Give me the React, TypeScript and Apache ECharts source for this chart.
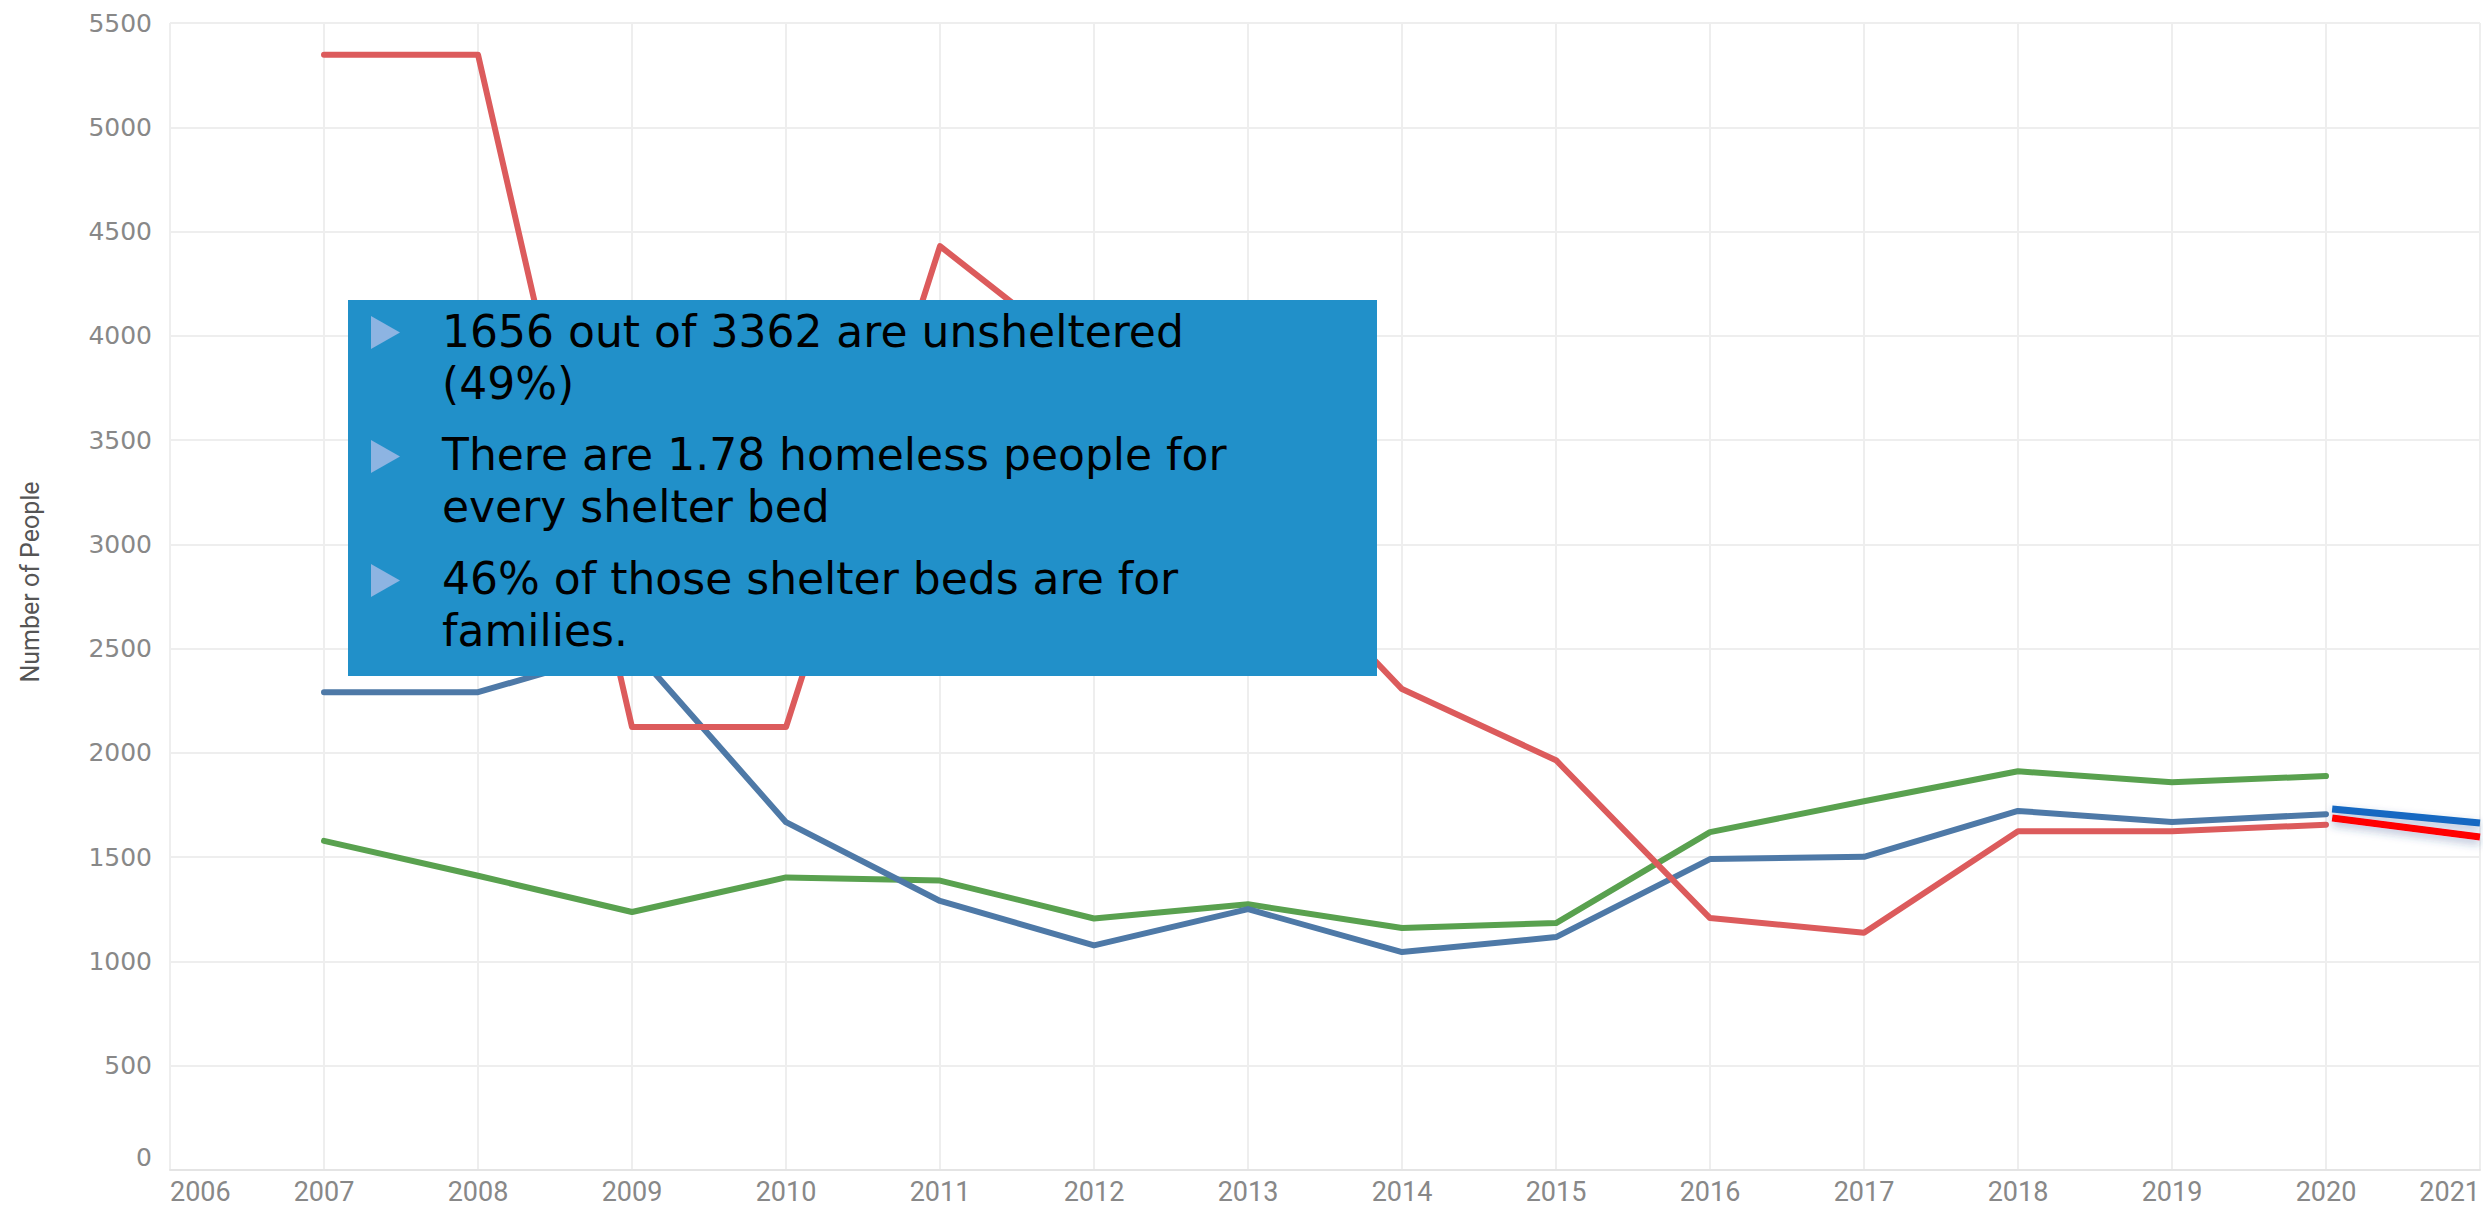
import { useEffect, useRef } from "react";
import * as echarts from "echarts";

const years = [2007, 2008, 2009, 2010, 2011, 2012, 2013, 2014, 2015, 2016, 2017, 2018, 2019, 2020];
const unsheltered = [5348, 5348, 2124, 2124, 4430, 3850, 3080, 2306, 1965, 1208, 1138, 1624, 1624, 1656];
const sheltered = [2291, 2291, 2505, 1668, 1290, 1077, 1251, 1045, 1117, 1491, 1502, 1722, 1669, 1706];
const shelterBeds = [1578, 1411, 1237, 1403, 1388, 1206, 1274, 1160, 1184, 1620, 1768, 1912, 1859, 1889];

const trendYears = [2020.04, 2021];
const trendSheltered = [1731, 1664];
const trendUnsheltered = [1688, 1597];

const bulletBlocks = [
  "1656 out of 3362 are unsheltered\n(49%)",
  "There are 1.78 homeless people for\nevery shelter bed",
  "46% of those shelter beds are for\nfamilies.",
];

const pairs = (xs: number[], ys: number[]) => xs.map((x, i) => [x, ys[i]]);

export default function App() {
  const ref = useRef<HTMLDivElement>(null);
  useEffect(() => {
    const chart = echarts.init(ref.current!, null, { renderer: "svg" });

    const blockTops = [305, 428, 552];
    const bulletCenters = [332.5, 456.5, 580.5];
    const graphic: any[] = [
      {
        type: "rect",
        z: 100,
        shape: { x: 348, y: 300, width: 1029, height: 376 },
        style: { fill: "#2190c9" },
      },
      {
        type: "text",
        z: 100,
        x: 30,
        y: 582,
        rotation: Math.PI / 2,
        style: {
          text: "Number of People",
          fontFamily: "Roboto",
          fontSize: 25,
          fill: "#555",
          align: "center",
          verticalAlign: "middle",
        },
      },
    ];
    bulletBlocks.forEach((block, bi) => {
      const c = bulletCenters[bi];
      graphic.push({
        type: "polygon",
        z: 101,
        shape: { points: [[371, c - 16.5], [400, c], [371, c + 16.5]] },
        style: { fill: "#8db4e2" },
      });
      graphic.push({
        type: "text",
        z: 101,
        x: 442,
        y: blockTops[bi],
        style: {
          text: block,
          fontFamily: "DejaVu Sans",
          fontSize: 44,
          lineHeight: 52,
          fill: "#000",
          align: "left",
          verticalAlign: "top",
        },
      });
    });

    const mainLine = (name: string, data: number[], color: string) => ({
      name,
      type: "line",
      data: pairs(years, data),
      symbol: "none",
      color,
      lineStyle: { width: 6, color, join: "round", cap: "round" },
      z: 3,
    });
    const trendLine = (name: string, data: number[], color: string) => ({
      name,
      type: "line",
      data: pairs(trendYears, data),
      symbol: "none",
      color,
      clip: false,
      lineStyle: {
        width: 7,
        color,
        cap: "butt",
        shadowColor: "rgba(40,70,140,0.35)",
        shadowBlur: 8,
        shadowOffsetY: 4,
      },
      z: 4,
    });

    chart.setOption({
      animation: false,
      backgroundColor: "#ffffff",
      grid: { left: 170, right: 3, top: 23, bottom: 38, containLabel: false },
      xAxis: {
        type: "value",
        min: 2006,
        max: 2021,
        interval: 1,
        axisLine: { show: true, lineStyle: { color: "#e4e4e4", width: 2 } },
        axisTick: { show: false },
        splitLine: { show: true, lineStyle: { color: "#eeeeee", width: 2 } },
        axisLabel: {
          formatter: (v: number) => String(v),
          fontFamily: "Roboto",
          fontSize: 27,
          color: "#888",
          margin: 8,
          alignMinLabel: "left",
          alignMaxLabel: "right",
        },
      },
      yAxis: {
        type: "value",
        min: 0,
        max: 5500,
        interval: 500,
        axisLine: { show: false },
        axisTick: { show: false },
        splitLine: { show: true, lineStyle: { color: "#eeeeee", width: 2 } },
        axisLabel: {
          formatter: (v: number) => String(v),
          fontFamily: "DejaVu Sans",
          fontSize: 25,
          color: "#888",
          margin: 18,
          verticalAlignMinLabel: "bottom",
        },
      },
      series: [
        mainLine("Shelter beds", shelterBeds, "#59a14f"),
        mainLine("Sheltered", sheltered, "#4e79a7"),
        mainLine("Unsheltered", unsheltered, "#dc5b5c"),
        trendLine("Sheltered trend", trendSheltered, "#1468c2"),
        trendLine("Unsheltered trend", trendUnsheltered, "#ff0000"),
      ],
      graphic,
    });
    return () => chart.dispose();
  }, []);
  return (
    <div
      ref={ref}
      style={{ position: "fixed", left: 0, top: 0, width: 2483, height: 1208, background: "#fff" }}
    />
  );
}
